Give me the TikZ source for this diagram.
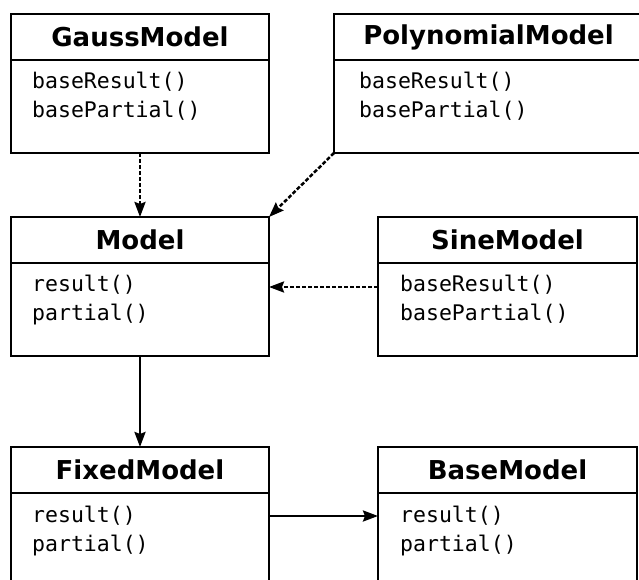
\documentclass[tikz,border=0pt]{standalone}
\usepackage{fontspec}
\newfontfamily\hdrfamily{DejaVu Sans}
\newfontfamily\methfamily{DejaVu Sans Mono}
\usetikzlibrary{arrows.meta,calc}
\tikzset{
  hdr/.style={draw, line width=2.9pt, inner sep=0pt, outer sep=0pt, anchor=north west, minimum height=46pt,
    font=\hdrfamily\bfseries\fontsize{26}{30}\selectfont},
  bodyb/.style={draw, line width=2.9pt, inner sep=0pt, outer sep=0pt, anchor=north, minimum height=93pt},
  meth/.style={inner sep=0pt, anchor=base west, font=\methfamily\fontsize{21.5}{25}\selectfont},
  conn/.style={line width=2.5pt, -{Stealth[length=15pt,width=11pt,inset=2pt]}},
  dep/.style={conn, dash pattern=on 4pt off 2pt},
}
\begin{document}
\begin{tikzpicture}[x=1pt,y=1pt]
\useasboundingbox (0,0) rectangle (639,-580);
\clip (0,0) rectangle (639,-580);
\fill[white] (0,0) rectangle (639,-580);

% GaussModel
\node[hdr, minimum width=258pt] (gaussH) at (11,-14) {GaussModel};
\node[bodyb, minimum width=258pt] (gauss) at (gaussH.south) {};
\node[meth] (gaussM1) at (32,-89) {baseResult()};
\node[meth] (gaussM2) at (32,-118) {basePartial()};

% PolynomialModel
\node[hdr, minimum width=309pt] (polyH) at (334,-14) {PolynomialModel};
\node[bodyb, minimum width=309pt] (poly) at (polyH.south) {};
\node[meth] (polyM1) at (359,-89) {baseResult()};
\node[meth] (polyM2) at (359,-118) {basePartial()};

% Model
\node[hdr, minimum width=258pt] (modelH) at (11,-217) {Model};
\node[bodyb, minimum width=258pt] (model) at (modelH.south) {};
\node[meth] (modelM1) at (32,-291) {result()};
\node[meth] (modelM2) at (32,-320) {partial()};

% SineModel
\node[hdr, minimum width=259pt] (sineH) at (378,-217) {SineModel};
\node[bodyb, minimum width=259pt] (sine) at (sineH.south) {};
\node[meth] (sineM1) at (400,-291) {baseResult()};
\node[meth] (sineM2) at (400,-320) {basePartial()};

% FixedModel
\node[hdr, minimum width=258pt] (fixedH) at (11,-447) {FixedModel};
\node[bodyb, minimum width=258pt] (fixed) at (fixedH.south) {};
\node[meth] (fixedM1) at (32,-522) {result()};
\node[meth] (fixedM2) at (32,-551) {partial()};

% BaseModel
\node[hdr, minimum width=259pt] (baseH) at (378,-447) {BaseModel};
\node[bodyb, minimum width=259pt] (base) at (baseH.south) {};
\node[meth] (baseM1) at (400,-522) {result()};
\node[meth] (baseM2) at (400,-551) {partial()};

% connectors
\draw[dep] (gauss.south) -- (modelH.north);
\draw[dep] (poly.south west) -- (modelH.north east);
\draw[dep] ($(sine.north west)+(0,-24)$) -- ($(model.north east)+(0,-24)$);
\draw[conn] (model.south) -- (fixedH.north);
\draw[conn] ($(fixed.north east)+(0,-23)$) -- ($(base.north west)+(0,-23)$);
\end{tikzpicture}
\end{document}
